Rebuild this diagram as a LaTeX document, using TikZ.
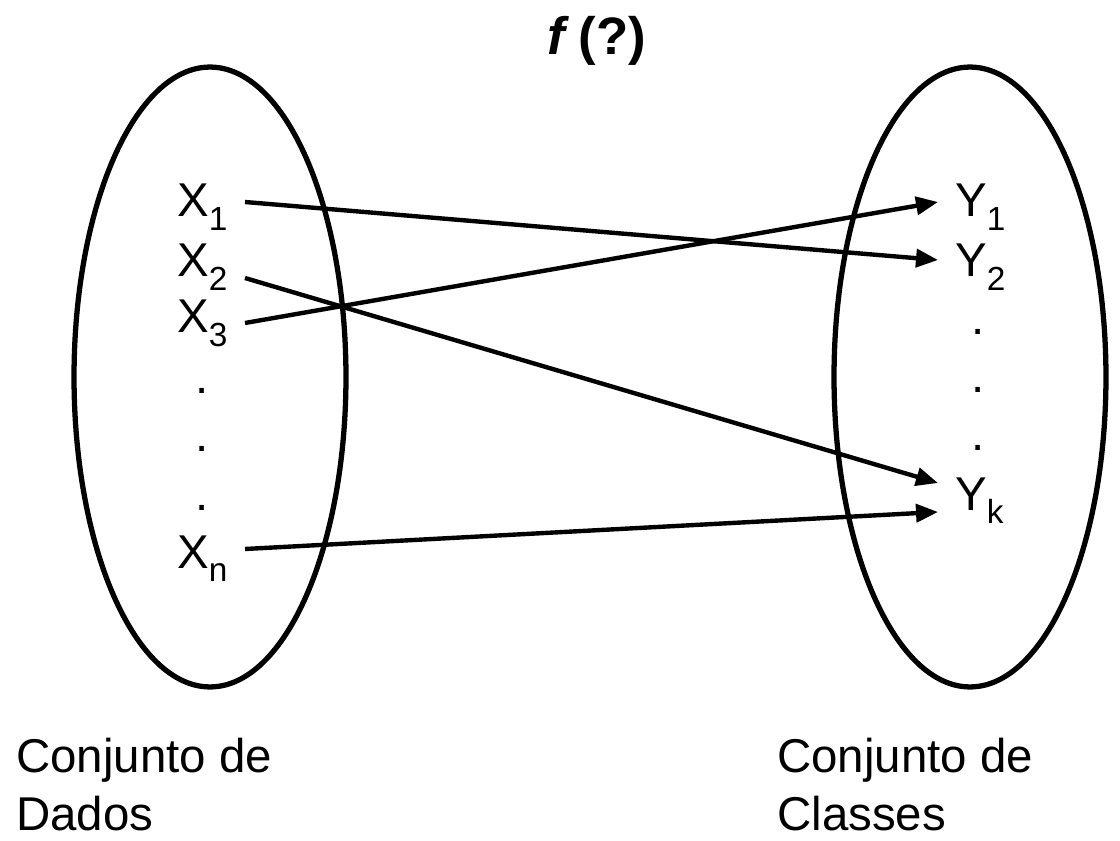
\documentclass[tikz,border=0pt]{standalone}
\usepackage{fontspec}
\setmainfont{Liberation Sans}
\usetikzlibrary{arrows.meta,shapes.geometric,positioning}
\newcommand{\idx}[1]{\raisebox{-0.28em}{\fontsize{19}{19}\selectfont #1}}

\begin{document}
\begin{tikzpicture}[x=0.02cm, y=-0.02cm,
    lbl/.style={font=\fontsize{27}{33}\selectfont, inner sep=0pt, anchor=base west},
    pt/.style={font=\fontsize{27}{33}\selectfont, inner sep=0pt, anchor=base},
    conj/.style={draw, ellipse, line width=3pt, minimum width=5.44cm, minimum height=12.4cm, inner sep=0pt},
    map/.style={-{Triangle[length=0.44cm,width=0.36cm]}, line width=2.5pt}]

\useasboundingbox (0,0) rectangle (1120,841);

\node[conj] (dados) at (210,377) {};
\node[conj] (classes) at (970,377) {};

\node[font=\fontsize{30}{36}\selectfont\bfseries, inner sep=0pt, anchor=base] (titulo) at (597,55) {\textit{f}\,(?)};

\node[lbl] (x1) at (177,217) {X\idx{1}};
\node[lbl] (x2) at (177,277) {X\idx{2}};
\node[lbl] (x3) at (177,333) {X\idx{3}};
\node[pt] (dx1) at (202,394) {.};
\node[pt] (dx2) at (202,452) {.};
\node[pt] (dx3) at (202,510) {.};
\node[lbl] (xn) at (177,568) {X\idx{n}};

\node[lbl] (y1) at (955,217) {Y\idx{1}};
\node[lbl] (y2) at (955,277) {Y\idx{2}};
\node[pt] (dy1) at (978,335) {.};
\node[pt] (dy2) at (978,393) {.};
\node[pt] (dy3) at (978,451) {.};
\node[lbl] (yk) at (955,510) {Y\idx{k}};

\draw[map] ([shift={(68,-15)}]x1.base west) -- ([shift={(-17,-17)}]y2.base west);
\draw[map] ([shift={(68,1)}]x2.base west) -- ([shift={(-17,-27)}]yk.base west);
\draw[map] ([shift={(68,-10)}]x3.base west) -- ([shift={(-17,-15)}]y1.base west);
\draw[map] ([shift={(68,-19)}]xn.base west) -- ([shift={(-17,2)}]yk.base west);

\node[lbl, align=left] (dadostxt) at (16,830) {Conjunto de\\Dados};
\node[lbl, align=left] (classestxt) at (777,830) {Conjunto de\\Classes};

\end{tikzpicture}
\end{document}
